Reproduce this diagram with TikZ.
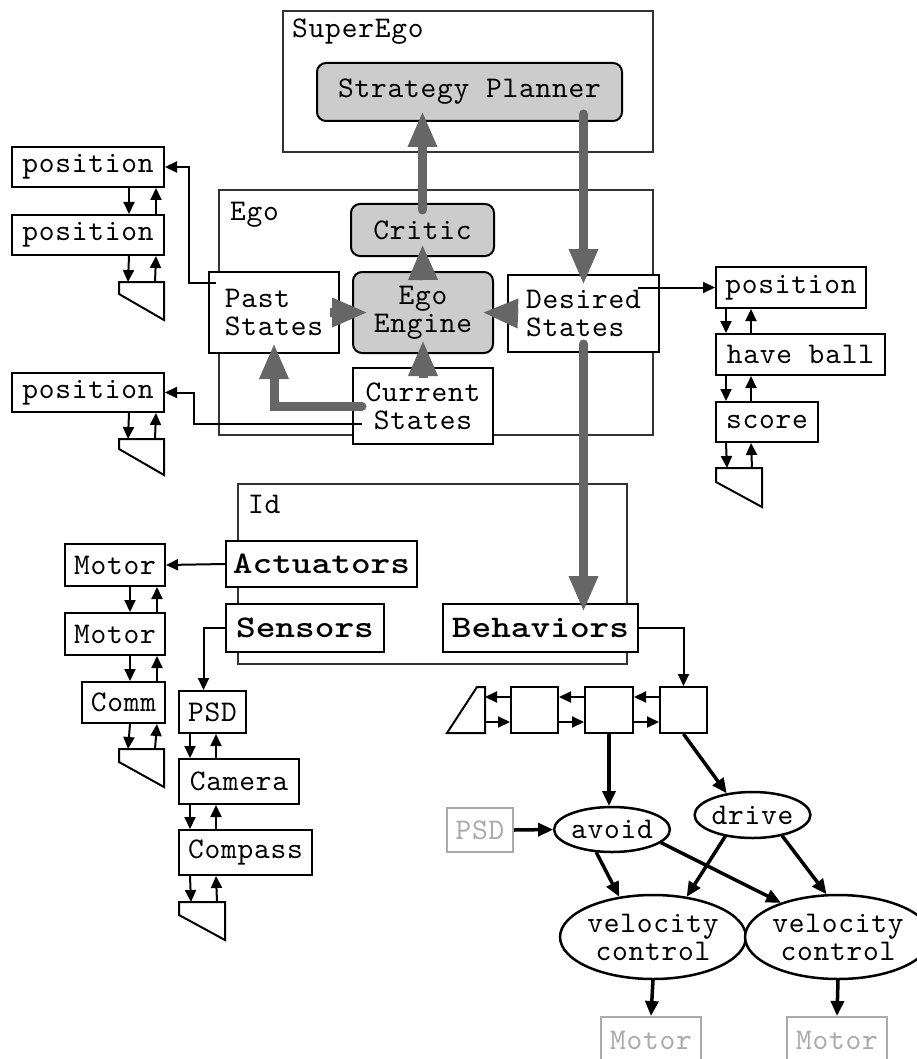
\documentclass[tikz,border=0pt]{standalone}
\usepackage{fontspec}
\newfontfamily\mreg{lmmono10-regular.otf}[LetterSpace=2.6]
\newfontfamily\mbold{lmmonolt10-bold.otf}[FakeStretch=1.19]
\usetikzlibrary{arrows.meta,shapes.geometric}
\definecolor{ga}{HTML}{666666}
\definecolor{gf}{HTML}{CCCCCC}
\definecolor{gl}{HTML}{AAAAAA}
\newcommand\reg{\mreg\fontsize{30}{28}\selectfont}
\newcommand\bld{\mbold\fontsize{31.5}{34}\selectfont}
\newcommand\bx[7][]{\node[box,minimum width={(#5)-(#3)},minimum height={(#6)-(#4)},#1] (#2) at ({((#3)+(#5))/2},{((#4)+(#6))/2}) {#7};}
\begin{document}
\begin{tikzpicture}[x=1pt,y=-1pt,
  box/.style={draw, line width=2pt, fill=white, inner sep=0pt, outer sep=1pt, font=\reg},
  cont/.style={draw=black!80, fill=none, line width=1.6pt},
  rbox/.style={rounded corners=9pt, fill=gf},
  bbox/.style={font=\bld},
  gbox/.style={draw=gl, text=gl},
  lbl/.style={anchor=base west, inner sep=0pt, font=\reg},
  ell/.style={ellipse, draw, line width=2.5pt, fill=white, inner sep=0pt, outer sep=1pt, font=\reg, align=center},
  trap/.style={draw, line width=2pt, fill=white},
  arr/.style={line width=2pt, -{Triangle[length=12pt,width=11pt]}},
  earr/.style={line width=3.5pt, -{Triangle[length=15pt,width=13pt]}},
  garr/.style={draw=ga, line width=9pt, line cap=round, -{Triangle[length=36pt,width=27pt]}},
  gshort/.style={garr, line cap=butt}]
\useasboundingbox (0,0) rectangle (916,1059);
% containers
\bx[cont]{superego}{283}{11}{653}{152}{}
\bx[cont]{ego}{219}{190}{653}{435}{}
\bx[cont]{id}{238}{484}{627}{664}{}
\node[lbl] (lsuper) at (292,38) {SuperEgo};
\node[lbl] (lego) at (230,221) {Ego};
\node[lbl] (lid) at (248,513) {Id};
% SuperEgo / Ego nodes
\bx[rbox]{sp}{317}{63}{622}{121}{Strategy Planner}
\bx[rbox]{crit}{351}{204}{494}{256}{Critic}
\bx[rbox,align=center]{eng}{353}{272}{493}{353}{Ego\\Engine}
\bx[align=left]{past}{209}{272}{339}{353}{Past\\States}
\bx[align=left]{des}{508}{275}{659}{352}{Desired\\States}
\bx[align=center]{cur}{353}{368}{493}{444}{Current\\States}
% left stacks
\bx{posA}{12}{147}{164}{187}{position}
\bx{posB}{12}{215}{164}{255}{position}
\draw[trap] (119,282) -- (164,282) -- (164,320) -- (119,294) -- cycle;
\coordinate (tA) at (164,282);
\bx{posC}{12}{373}{164}{412}{position}
\draw[trap] (119,439) -- (164,439) -- (164,475) -- (119,449) -- cycle;
\coordinate (tB) at (164,439);
% right stack
\bx{posR}{716}{267}{866}{308}{position}
\bx{ball}{716}{334}{885}{375}{have ball}
\bx{score}{716}{402}{818}{442}{score}
\draw[trap] (716,468) -- (762,468) -- (762,507) -- (716,482) -- cycle;
\coordinate (tR) at (716,468);
% Id nodes
\bx[bbox]{act}{226}{541}{417}{587}{Actuators}
\bx[bbox]{sens}{226}{604}{384}{652}{Sensors}
\bx[bbox]{beh}{443}{604}{638}{652}{Behaviors}
% motor stack
\bx{motA}{65}{544}{165}{586}{Motor}
\bx{motB}{65}{613}{165}{655}{Motor}
\bx{comm}{82}{682}{165}{723}{Comm}
\draw[trap] (119,749) -- (164,749) -- (164,787) -- (119,762) -- cycle;
\coordinate (tM) at (164,749);
% sensor stack
\bx{psd}{179}{691}{246}{733}{PSD}
\bx{cam}{179}{759}{299}{804}{Camera}
\bx{comp}{179}{830}{312}{875}{Compass}
\draw[trap] (179,902) -- (225,902) -- (225,940) -- (179,915) -- cycle;
\coordinate (tS) at (179,902);
% behaviour chain
\draw[trap] (477,687) -- (485,687) -- (485,733) -- (447,733) -- cycle;
\coordinate (tC) at (485,710);
\bx{ba}{511}{687}{558}{733}{}
\bx{bb}{585}{687}{633}{733}{}
\bx{bc}{660}{687}{707}{733}{}
% ellipses
\node[ell, minimum width=112, minimum height=45] (avoid) at (612,829.5) {avoid};
\node[ell, minimum width=113, minimum height=46] (drive) at (752.5,815) {drive};
\node[ell, minimum width=172, minimum height=84] (velA) at (653,937) {velocity\\control};
\node[ell, minimum width=172, minimum height=84] (velB) at (838,937) {velocity\\control};
\bx[gbox]{psdG}{447}{808}{513}{852}{PSD}
\bx[gbox]{motG1}{601}{1017}{701}{1063}{Motor}
\bx[gbox]{motG2}{787}{1017}{887}{1063}{Motor}
% thin connectors
\draw[arr] ([xshift=8pt,yshift=30pt]past.west) -- ++(-27,0) |- (posA.east);
\draw[arr] ([xshift=10pt,yshift=-18pt]cur.west) -- ++(-168,0) |- (posC.east);
\draw[arr] ([xshift=-22pt]des.east |- posR.west) -- (posR.west);
\draw[arr] (act.west) -- (motA.east);
\draw[arr] (sens.west) -| ([xshift=-9pt]psd.north);
\draw[arr] (beh.east) -| (bc.north);
% left stack arrows
\draw[arr] ([xshift=-36pt]posA.south east) -- ([xshift=-36pt]posB.north east);
\draw[arr] ([xshift=-9pt]posB.north east) -- ([xshift=-9pt]posA.south east);
\draw[arr] ([xshift=-36pt]posB.south east) -- ([xshift=-36pt]tA);
\draw[arr] ([xshift=-9pt]tA) -- ([xshift=-9pt]posB.south east);
\draw[arr] ([xshift=-36pt]posC.south east) -- ([xshift=-36pt]tB);
\draw[arr] ([xshift=-9pt]tB) -- ([xshift=-9pt]posC.south east);
% right stack arrows
\draw[arr] ([xshift=11pt]posR.south west) -- ([xshift=11pt]ball.north west);
\draw[arr] ([xshift=36pt]ball.north west) -- ([xshift=36pt]posR.south west);
\draw[arr] ([xshift=11pt]ball.south west) -- ([xshift=11pt]score.north west);
\draw[arr] ([xshift=36pt]score.north west) -- ([xshift=36pt]ball.south west);
\draw[arr] ([xshift=11pt]score.south west) -- ([xshift=11pt]tR);
\draw[arr] ([xshift=36pt]tR) -- ([xshift=36pt]score.south west);
% motor stack arrows
\draw[arr] ([xshift=-36pt]motA.south east) -- ([xshift=-36pt]motB.north east);
\draw[arr] ([xshift=-9pt]motB.north east) -- ([xshift=-9pt]motA.south east);
\draw[arr] ([xshift=-36pt]motB.south east) -- ([xshift=-36pt]comm.north east);
\draw[arr] ([xshift=-9pt]comm.north east) -- ([xshift=-9pt]motB.south east);
\draw[arr] ([xshift=-36pt]comm.south east) -- ([xshift=-36pt]tM);
\draw[arr] ([xshift=-9pt]tM) -- ([xshift=-9pt]comm.south east);
% sensor stack arrows
\draw[arr] ([xshift=12pt]psd.south west) -- ([xshift=12pt]cam.north west);
\draw[arr] ([xshift=38pt]cam.north west) -- ([xshift=38pt]psd.south west);
\draw[arr] ([xshift=12pt]cam.south west) -- ([xshift=12pt]comp.north west);
\draw[arr] ([xshift=38pt]comp.north west) -- ([xshift=38pt]cam.south west);
\draw[arr] ([xshift=12pt]comp.south west) -- ([xshift=12pt]tS);
\draw[arr] ([xshift=38pt]tS) -- ([xshift=38pt]comp.south west);
% chain arrows
\draw[arr] ([yshift=13pt]bc.west) -- ([yshift=13pt]bb.east);
\draw[arr] ([yshift=13pt]bb.west) -- ([yshift=13pt]ba.east);
\draw[arr] ([yshift=13pt]ba.west) -- ([yshift=13pt]tC);
\draw[arr] ([yshift=-12pt]tC) -- ([yshift=-12pt]ba.west);
\draw[arr] ([yshift=-12pt]ba.east) -- ([yshift=-12pt]bb.west);
\draw[arr] ([yshift=-12pt]bb.east) -- ([yshift=-12pt]bc.west);
% behaviour graph
\draw[earr] (bb.south) -- (bb.south |- avoid.north);
\draw[earr] (bc.south) -- (drive.140);
\draw[earr] (psdG.east) -- (avoid.west);
\draw[earr] (avoid.235) -- (velA.130);
\draw[earr] (drive.218) -- (velA.50);
\draw[earr] (avoid.345) -- (velB.149);
\draw[earr] (drive.325) -- (velB.105);
\draw[earr] (velA.south) -- (motG1.north);
\draw[earr] (velB.south) -- (motG2.north);
% thick grey arrows
\coordinate (cs) at (crit.north |- sp.south);
\coordinate (spd) at (des.north |- sp.south);
\coordinate (bht) at (des.south |- beh.north);
\draw[gshort] ([yshift=-9pt]eng.north) -- ([yshift=13pt]crit.south);
\draw[garr] ([yshift=-7pt]crit.north) -- ([yshift=11pt]cs);
\draw[garr] ([yshift=8pt]spd) -- ([yshift=-11pt]des.north);
\draw[gshort] ([xshift=-10pt]past.east) -- ([xshift=16pt]eng.west);
\draw[gshort] ([xshift=11pt]des.west) -- ([xshift=-12pt]eng.east);
\draw[gshort] ([yshift=-11pt]cur.north) -- ([yshift=14pt]eng.south);
\draw[garr] ([xshift=10pt]cur.west) -| ([yshift=11pt]past.south);
\draw[garr] ([yshift=9pt]des.south) -- ([yshift=-9pt]bht);
\end{tikzpicture}
\end{document}
